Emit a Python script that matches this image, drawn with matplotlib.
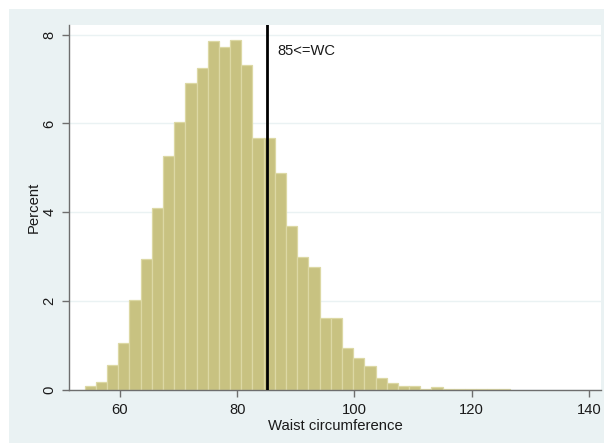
import numpy as np
import matplotlib
matplotlib.use("Agg")
import matplotlib.pyplot as plt
from matplotlib.patches import Rectangle

# histogram of waist circumference (percent per bin)
bin_start = 53.98
bin_width = 1.908
percent = [0.09, 0.19, 0.56, 1.05, 2.02, 2.94, 4.10, 5.27, 6.02, 6.92,
           7.24, 7.86, 7.72, 7.88, 7.31, 5.66, 5.66, 4.89, 3.68, 2.99,
           2.77, 1.61, 1.61, 0.95, 0.71, 0.54, 0.28, 0.16, 0.09, 0.09,
           0.03, 0.07, 0.02, 0.02, 0.03, 0.02, 0.02, 0.02]
cutoff = 85
cutoff_label = "85<=WC"
xticks = [60, 80, 100, 120, 140]
yticks = [0, 2, 4, 6, 8]

plt.rcParams['font.family'] = ['Liberation Sans', 'DejaVu Sans']

W, H = 604, 443
fig = plt.figure(figsize=(W / 100, H / 100), dpi=100, facecolor='white')
# stata-like graph region, drawn behind the axes
fig.patches.append(Rectangle((9 / W, 0), 1 - 9 / W, 1 - 9 / H,
                             transform=fig.transFigure, facecolor='#eaf2f3',
                             edgecolor='none', zorder=-10))

ax = fig.add_axes([69 / W, (H - 390) / H, (601 - 69) / W, (390 - 25) / H])
ax.set_zorder(1)
ax.set_facecolor('white')

lefts = bin_start + bin_width * np.arange(len(percent))
ax.bar(lefts, percent, width=bin_width, align='edge',
       color='#c8c281', edgecolor='#dcd8a4', linewidth=0.9, zorder=2)

ax.axvline(cutoff, ymin=0, ymax=1, color='black', linewidth=2, zorder=3)
ax.text(cutoff + 1.85, 7.64, cutoff_label, fontsize=10.6, color='#1a1a1a',
        ha='left', va='center', zorder=4)

ax.set_xlim(51.3, 142.05)
ax.set_ylim(0, 8.214)
ax.set_xticks(xticks)
ax.set_yticks(yticks)
ax.set_yticklabels([str(t) for t in yticks], rotation=90, va='center')
ax.grid(axis='y', color='#eaf2f3', linewidth=1.0, zorder=1)
ax.set_axisbelow(True)

for side in ['top', 'right']:
    ax.spines[side].set_visible(False)
for side in ['left', 'bottom']:
    ax.spines[side].set_color('#6e6e6e')
    ax.spines[side].set_linewidth(1.0)

ax.tick_params(axis='both', direction='out', length=5, width=1.0,
               color='#6e6e6e', labelsize=10.6, labelcolor='#1a1a1a', pad=4)
ax.set_xlabel('Waist circumference', fontsize=10.7, color='#1a1a1a', labelpad=2)
ax.set_ylabel('Percent', fontsize=10.7, color='#1a1a1a', labelpad=1)

fig.savefig('out.png', dpi=100, facecolor=fig.get_facecolor())
